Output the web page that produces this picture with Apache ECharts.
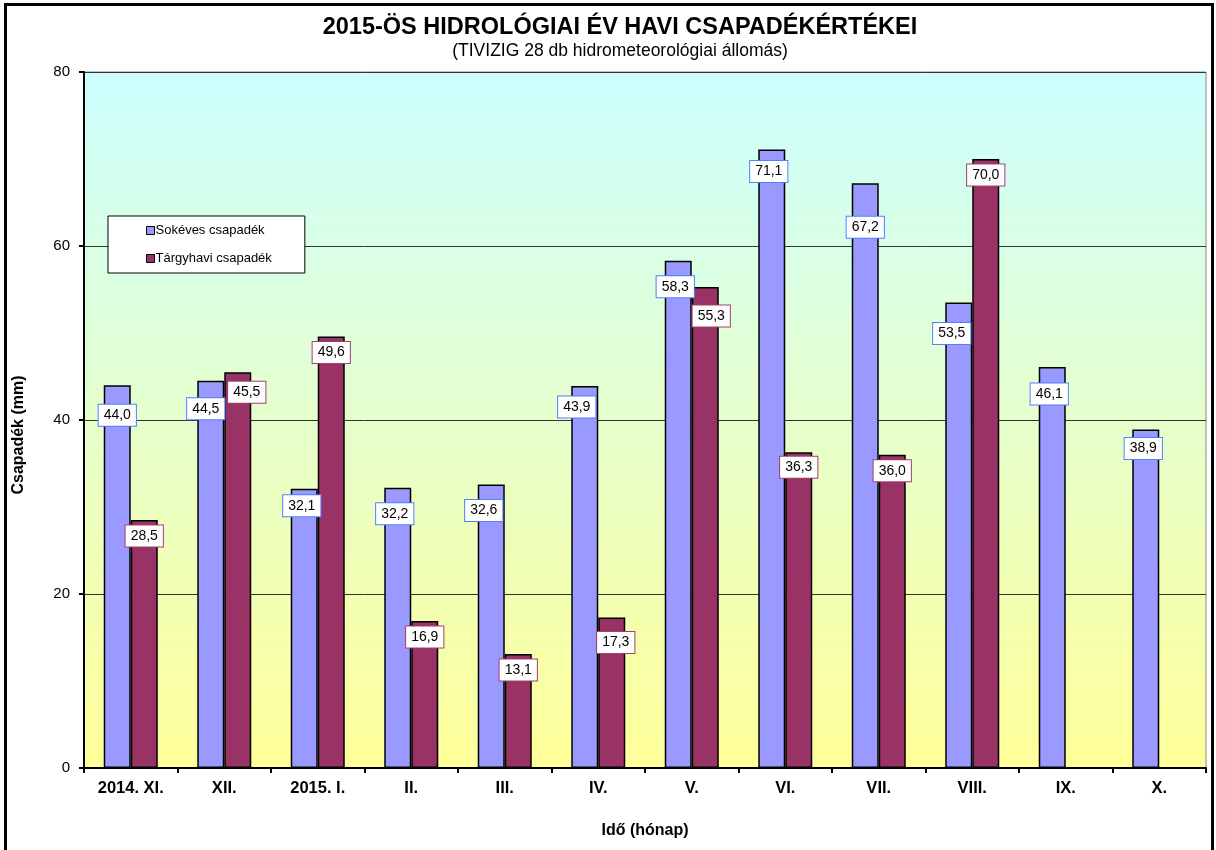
<!DOCTYPE html>
<html>
<head>
<meta charset="utf-8">
<script src="https://cdn.jsdelivr.net/npm/echarts@6/dist/echarts.min.js"></script>
<style>
html,body{margin:0;padding:0;background:#fff;}
#chart{width:1216px;height:850px;}
</style>
</head>
<body>
<div id="chart"></div>
<script>
// ---- data ----
const categories = ['2014. XI.', 'XII.', '2015. I.', 'II.', 'III.', 'IV.', 'V.', 'VI.', 'VII.', 'VIII.', 'IX.', 'X.'];
const longTermValues = [44.0, 44.5, 32.1, 32.2, 32.6, 43.9, 58.3, 71.1, 67.2, 53.5, 46.1, 38.9];
const monthValues = [28.5, 45.5, 49.6, 16.9, 13.1, 17.3, 55.3, 36.3, 36.0, 70.0, null, null];
const yTicks = [0, 20, 40, 60, 80];
const seriesNames = ['Sokéves csapadék', 'Tárgyhavi csapadék'];

// ---- label placement (style, px) ----
const blueLabelDx = [0, -5, -2.5, -3, -7.5, -8, -3, -3, 0, -7, -3, -2.5];
const blueLabelDy = [30, 28, 17, 26, 26, 21, 26, 22, 44, 31, 27, 19];
const redLabelDx = [0, 9, 0, 0, 0, 4, 6, 0, 0, 0, 0, 0];
const redLabelDy = [16, 20, 16, 16, 16, 25, 29, 15, 16, 16, 16, 16];

const FONT = "'Liberation Sans', Arial, sans-serif";
const BOX_HALF = 10.5;

function fmt(v) { return v.toFixed(1).replace('.', ','); }

function buildData(values, dxs, dys) {
  return values.map((v, i) => {
    if (v === null) return '-';
    return { value: v, label: { offset: [dxs[i], dys[i] - BOX_HALF] } };
  });
}

function labelStyle(borderColor) {
  return {
    show: true,
    position: 'insideTop',
    distance: 0,
    formatter: p => fmt(p.value),
    color: '#000',
    fontFamily: FONT,
    fontSize: 14,
    lineHeight: 15,
    backgroundColor: '#fff',
    borderColor: borderColor,
    borderWidth: 1,
    padding: [3, 5, 3, 5]
  };
}

const chart = echarts.init(document.getElementById('chart'), null, { renderer: 'canvas' });

chart.setOption({
  animation: false,
  backgroundColor: '#fff',
  textStyle: { fontFamily: FONT },
  title: {
    text: '2015-ÖS HIDROLÓGIAI ÉV HAVI CSAPADÉKÉRTÉKEI',
    subtext: '(TIVIZIG 28 db hidrometeorológiai állomás)',
    left: 615,
    textAlign: 'center',
    top: 11,
    itemGap: 2,
    textStyle: { fontFamily: FONT, fontSize: 23.5, fontWeight: 'bold', color: '#000' },
    subtextStyle: { fontFamily: FONT, fontSize: 17.5, color: '#000' }
  },
  legend: {
    orient: 'vertical',
    left: 108,
    top: 216,
    data: seriesNames,
    backgroundColor: '#fff',
    borderColor: '#000',
    borderWidth: 1,
    padding: [8, 33, 8, 38],
    itemGap: 15,
    itemWidth: 8,
    itemHeight: 8,
    icon: 'rect',
    textStyle: { fontFamily: FONT, fontSize: 13, color: '#000', padding: [0, 0, 0, -4] },
    itemStyle: { borderColor: '#000', borderWidth: 1 }
  },
  grid: {
    left: 84,
    right: 10,
    top: 72,
    bottom: 82,
    show: true,
    borderColor: '#888',
    borderWidth: 1,
    backgroundColor: new echarts.graphic.LinearGradient(0, 0, 0, 1, [
      { offset: 0, color: '#CCFFFF' },
      { offset: 1, color: '#FFFF99' }
    ])
  },
  xAxis: {
    type: 'category',
    data: categories,
    name: 'Idő (hónap)',
    nameLocation: 'middle',
    nameGap: 55,
    nameTextStyle: { fontFamily: FONT, fontSize: 16, fontWeight: 'bold', color: '#000' },
    axisLine: { lineStyle: { color: '#000', width: 2 } },
    axisTick: { show: true, length: 5, lineStyle: { color: '#000', width: 2 } },
    axisLabel: { fontFamily: FONT, fontSize: 16.5, fontWeight: 'bold', color: '#000', margin: 12 },
    splitLine: { show: false }
  },
  yAxis: {
    type: 'value',
    min: yTicks[0],
    max: yTicks[yTicks.length - 1],
    interval: yTicks[1] - yTicks[0],
    name: 'Csapadék (mm)',
    nameLocation: 'middle',
    nameGap: 57,
    nameRotate: 90,
    nameTextStyle: { fontFamily: FONT, fontSize: 16, fontWeight: 'bold', color: '#000', padding: [0, 30, 0, 0] },
    axisLine: { show: true, lineStyle: { color: '#000', width: 2 } },
    axisTick: { show: true, length: 5, lineStyle: { color: '#000', width: 2 } },
    axisLabel: { fontFamily: FONT, fontSize: 15, color: '#000', margin: 14 },
    splitLine: { show: true, lineStyle: { color: '#333', width: 1 } }
  },
  series: [
    {
      name: seriesNames[0],
      type: 'bar',
      data: buildData(longTermValues, blueLabelDx, blueLabelDy),
      barWidth: 27,
      barGap: '0%',
      itemStyle: { color: '#9999FF', borderColor: '#000', borderWidth: 1.5 },
      label: labelStyle('#4F7FFF')
    },
    {
      name: seriesNames[1],
      type: 'bar',
      data: buildData(monthValues, redLabelDx, redLabelDy),
      barWidth: 27,
      barGap: '0%',
      itemStyle: { color: '#993366', borderColor: '#000', borderWidth: 1.5 },
      label: labelStyle('#A0406E')
    }
  ],
  graphic: [
    {
      type: 'rect',
      silent: true,
      z: 100,
      shape: { x: 5.5, y: 4.5, width: 1207, height: 900 },
      style: { fill: null, stroke: '#000', lineWidth: 3 }
    }
  ]
});
</script>
</body>
</html>
